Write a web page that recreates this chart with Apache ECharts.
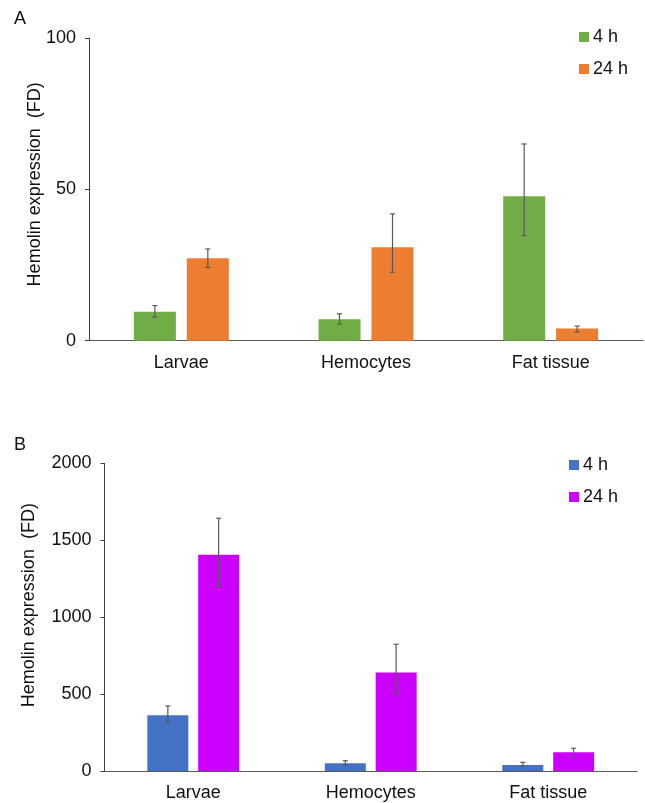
<!DOCTYPE html>
<html>
<head>
<meta charset="utf-8">
<script src="https://cdn.jsdelivr.net/npm/echarts@6/dist/echarts.min.js"></script>
<style>html,body{margin:0;padding:0;background:#fff}#c{width:645px;height:803px}</style>
</head>
<body>
<div id="c"></div>
<script>
const categories = ['Larvae', 'Hemocytes', 'Fat tissue'];
const seriesNames = ['4 h', '24 h'];
// Panel A
const aFour = [9.6, 7.1, 47.7];
const aFourLow = [7.85, 5.5, 34.7];
const aFourHigh = [11.6, 8.9, 65.0];
const aTwentyFour = [27.2, 30.9, 4.0];
const aTwentyFourLow = [24.2, 22.6, 2.9];
const aTwentyFourHigh = [30.3, 41.9, 4.8];
// Panel B
const bFour = [362, 50, 39];
const bFourLow = [317, 37, 30];
const bFourHigh = [423, 67, 56.5];
const bTwentyFour = [1406, 641, 122];
const bTwentyFourLow = [1198, 496, 89];
const bTwentyFourHigh = [1643, 824, 148];
const aTicks = {min: 0, max: 100, interval: 50};
const bTicks = {min: 0, max: 2000, interval: 500};

const FONT = 'Liberation Sans, Arial, sans-serif';
const TXT = '#111';
const FS = 18;

function errSeries(idx, low, high, offset) {
  return {
    type: 'custom', xAxisIndex: idx, yAxisIndex: idx, z: 10, silent: true,
    data: low.map((l, i) => [i, l, high[i]]),
    encode: {x: 0, y: [1, 2]},
    renderItem: function (params, api) {
      const lo = api.coord([api.value(0), api.value(1)]);
      const hi = api.coord([api.value(0), api.value(2)]);
      const x = lo[0] + offset;
      const w = 2.5;
      const st = {stroke: '#595959', lineWidth: 1.2};
      return {type: 'group', children: [
        {type: 'line', shape: {x1: x, y1: lo[1], x2: x, y2: hi[1]}, style: st},
        {type: 'line', shape: {x1: x - w, y1: lo[1], x2: x + w, y2: lo[1]}, style: st},
        {type: 'line', shape: {x1: x - w, y1: hi[1], x2: x + w, y2: hi[1]}, style: st}
      ]};
    }
  };
}

function yAxisCfg(idx, ticks, gap, pad) {
  return {
    type: 'value', gridIndex: idx, min: ticks.min, max: ticks.max, interval: ticks.interval,
    splitLine: {show: false},
    axisLine: {show: true, lineStyle: {color: '#404040', width: 1}},
    axisTick: {show: true, length: 4, lineStyle: {color: '#404040'}},
    axisLabel: {color: TXT, fontSize: FS, fontFamily: FONT, margin: 13, formatter: v => String(v)},
    name: 'Hemolin expression  (FD)', nameLocation: 'middle', nameGap: gap,
    nameMoveOverlap: false,
    nameTextStyle: {color: TXT, fontSize: FS, fontFamily: FONT, padding: pad}
  };
}
function xAxisCfg(idx) {
  return {
    type: 'category', gridIndex: idx, data: categories,
    axisLine: {lineStyle: {color: '#595959', width: 1.2}},
    axisTick: {show: false},
    axisLabel: {color: TXT, fontSize: FS, fontFamily: FONT, margin: 13}
  };
}
function legendCfg(prefix, left, top) {
  return {
    orient: 'vertical', left: left, top: top, padding: 0,
    itemWidth: 10, itemHeight: 10, itemGap: 14, icon: 'rect',
    data: seriesNames.map(n => prefix + '|' + n),
    formatter: n => n.split('|')[1],
    textStyle: {color: TXT, fontSize: FS, fontFamily: FONT, padding: [0, 0, 0, -1]},
    selectedMode: false
  };
}

const chart = echarts.init(document.getElementById('c'), null, {renderer: 'canvas'});
chart.setOption({
  animation: false,
  backgroundColor: '#fff',
  graphic: [
    {type: 'text', left: 14, top: 10, style: {text: 'A', fontSize: FS, fontFamily: FONT, fill: TXT}},
    {type: 'text', left: 14, top: 436, style: {text: 'B', fontSize: FS, fontFamily: FONT, fill: TXT}}
  ],
  legend: [legendCfg('A', 579, 28), legendCfg('B', 569, 456)],
  grid: [
    {left: 89, right: 2, top: 38, height: 302.7},
    {left: 104.5, right: 8, top: 463.3, height: 307.7}
  ],
  xAxis: [xAxisCfg(0), xAxisCfg(1)],
  yAxis: [yAxisCfg(0, aTicks, 45, [0, 0, 0, 10]), yAxisCfg(1, bTicks, 66, [0, 0, 0, 24])],
  series: [
    {type: 'bar', name: 'A|4 h', xAxisIndex: 0, yAxisIndex: 0, data: aFour, barWidth: 42, barGap: '26%', itemStyle: {color: '#70AD47'}},
    {type: 'bar', name: 'A|24 h', xAxisIndex: 0, yAxisIndex: 0, data: aTwentyFour, barWidth: 42, barGap: '26%', itemStyle: {color: '#ED7D31'}},
    {type: 'bar', name: 'B|4 h', xAxisIndex: 1, yAxisIndex: 1, data: bFour, barWidth: 41, barGap: '24%', itemStyle: {color: '#4472C4'}},
    {type: 'bar', name: 'B|24 h', xAxisIndex: 1, yAxisIndex: 1, data: bTwentyFour, barWidth: 41, barGap: '24%', itemStyle: {color: '#CC00FF'}},
    errSeries(0, aFourLow, aFourHigh, -26.5),
    errSeries(0, aTwentyFourLow, aTwentyFourHigh, 26.5),
    errSeries(1, bFourLow, bFourHigh, -25.4),
    errSeries(1, bTwentyFourLow, bTwentyFourHigh, 25.4)
  ]
});
</script>
</body>
</html>
